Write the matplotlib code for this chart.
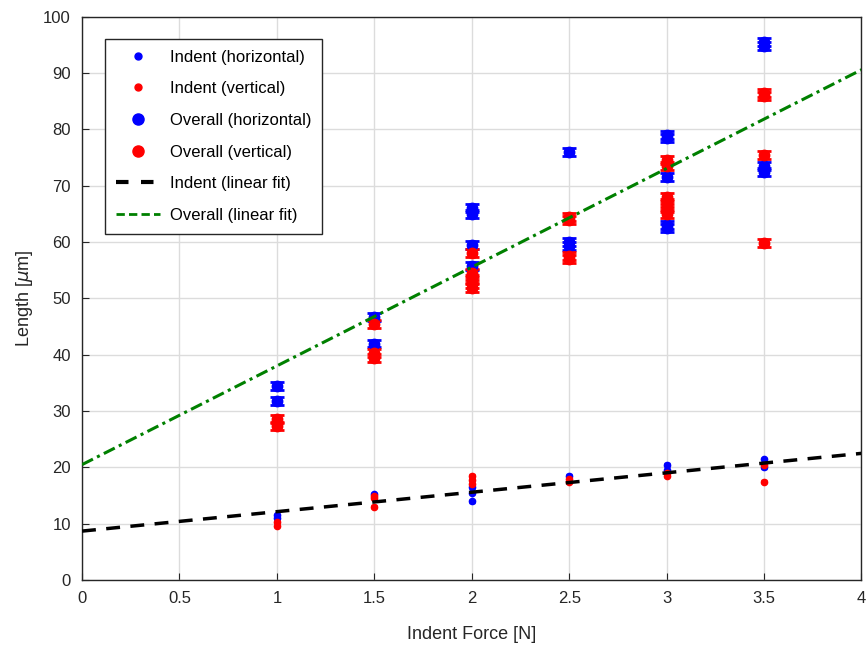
import matplotlib

matplotlib.use("Agg")
import matplotlib.pyplot as plt  # noqa: E402
from matplotlib.lines import Line2D  # noqa: E402

plt.rcParams["font.family"] = ["Liberation Sans", "DejaVu Sans"]

# indent measurements (um) vs indent force (N)
indent_h_x = [1, 1, 1.5, 2, 2, 2, 2.5, 3, 3, 3.5, 3.5]
indent_h_y = [11.5, 11.0, 15.3, 16.5, 15.5, 14.0, 18.5, 20.5, 19.5, 21.5, 20.0]
indent_v_x = [1, 1, 1.5, 1.5, 1.5, 2, 2, 2, 2.5, 2.5, 3, 3, 3.5, 3.5]
indent_v_y = [10.3, 9.6, 15.0, 14.6, 13.0, 18.5, 17.8, 17.0, 18.0, 17.5, 19.0, 18.5, 20.5, 17.5]

# overall measurements
overall_h_x = [1, 1, 1.5, 1.5, 2, 2, 2, 2, 2.5, 2.5, 2.5, 3, 3, 3, 3, 3, 3.5, 3.5, 3.5, 3.5]
overall_h_y = [34.5, 31.8, 46.7, 42.0, 66.0, 65.0, 59.5, 55.8, 76.0, 60.0, 59.3,
               79.0, 78.5, 71.5, 63.0, 62.5, 95.5, 94.8, 73.5, 72.5]
overall_v_x = [1, 1, 1.5, 1.5, 1.5, 2, 2, 2, 2, 2, 2.5, 2.5, 2.5, 2.5,
               3, 3, 3, 3, 3, 3, 3.5, 3.5, 3.5, 3.5]
overall_v_y = [28.6, 27.4, 45.5, 40.3, 39.5, 58.0, 54.5, 53.5, 52.5, 51.8, 64.5, 64.0, 57.5, 57.0,
               74.5, 73.5, 68.0, 67.0, 66.0, 65.0, 86.5, 86.0, 75.5, 59.8]

# linear fits, read at the axis ends
fit_x = [0, 4]
indent_fit_y = [8.7, 22.5]
overall_fit_y = [20.5, 90.6]

fig = plt.figure(figsize=(8.68, 6.46), dpi=100)
ax = fig.add_axes([0.0945, 0.102, 0.898, 0.872])

ax.grid(True, color="#dcdcdc", lw=1.0, zorder=0)
ax.set_axisbelow(True)

ax.errorbar(indent_h_x, indent_h_y, yerr=0.25, fmt="o", ms=4.5, color="blue",
            capsize=2.5, elinewidth=1, zorder=3)
ax.errorbar(indent_v_x, indent_v_y, yerr=0.25, fmt="o", ms=4.5, color="red",
            capsize=2.5, elinewidth=1, zorder=3)
ax.errorbar(overall_h_x, overall_h_y, yerr=0.7, fmt="o", ms=7.5, color="blue",
            capsize=5, capthick=2, elinewidth=1.5, zorder=3)
ax.errorbar(overall_v_x, overall_v_y, yerr=0.7, fmt="o", ms=7.5, color="red",
            capsize=5, capthick=2, elinewidth=1.5, zorder=3)
ax.plot(fit_x, indent_fit_y, ls=(0, (4, 3)), color="black", lw=2.5, zorder=4)
ax.plot(fit_x, overall_fit_y, ls=(0, (4, 1.5, 1, 1.5)), color="#008000", lw=2.2, zorder=4)

ax.set_xlim(0, 4)
ax.set_ylim(0, 100)
ax.set_xticks([0, 0.5, 1, 1.5, 2, 2.5, 3, 3.5, 4])
ax.set_xticklabels(["0", "0.5", "1", "1.5", "2", "2.5", "3", "3.5", "4"])
ax.set_yticks(range(0, 101, 10))
ax.tick_params(direction="in", length=5, labelsize=12, colors="#262626", pad=8)
for s in ax.spines.values():
    s.set_color("#262626")
    s.set_linewidth(1.0)

ax.set_xlabel("Indent Force [N]", fontsize=13, color="#262626", labelpad=14)
ax.set_ylabel(r"Length [$\mu$m]", fontsize=13, color="#262626", labelpad=6)

handles = [
    Line2D([], [], ls="none", marker="o", ms=5, color="blue"),
    Line2D([], [], ls="none", marker="o", ms=5, color="red"),
    Line2D([], [], ls="none", marker="o", ms=8, color="blue"),
    Line2D([], [], ls="none", marker="o", ms=8, color="red"),
    Line2D([], [], ls=(0, (3, 3)), color="black", lw=3),
    Line2D([], [], ls=(0, (3, 1.5)), color="#008000", lw=2),
]
labels = ["Indent (horizontal)", "Indent (vertical)", "Overall (horizontal)",
          "Overall (vertical)", "Indent (linear fit)", "Overall (linear fit)"]
leg = ax.legend(handles, labels, loc="upper left", bbox_to_anchor=(0.03, 0.961),
                fontsize=12, frameon=True, fancybox=False, framealpha=1,
                edgecolor="#262626", handlelength=2.6, labelspacing=1.0,
                borderpad=0.65, handletextpad=0.6, borderaxespad=0)
leg.get_frame().set_linewidth(1.0)

fig.savefig("out.png", dpi=100)
